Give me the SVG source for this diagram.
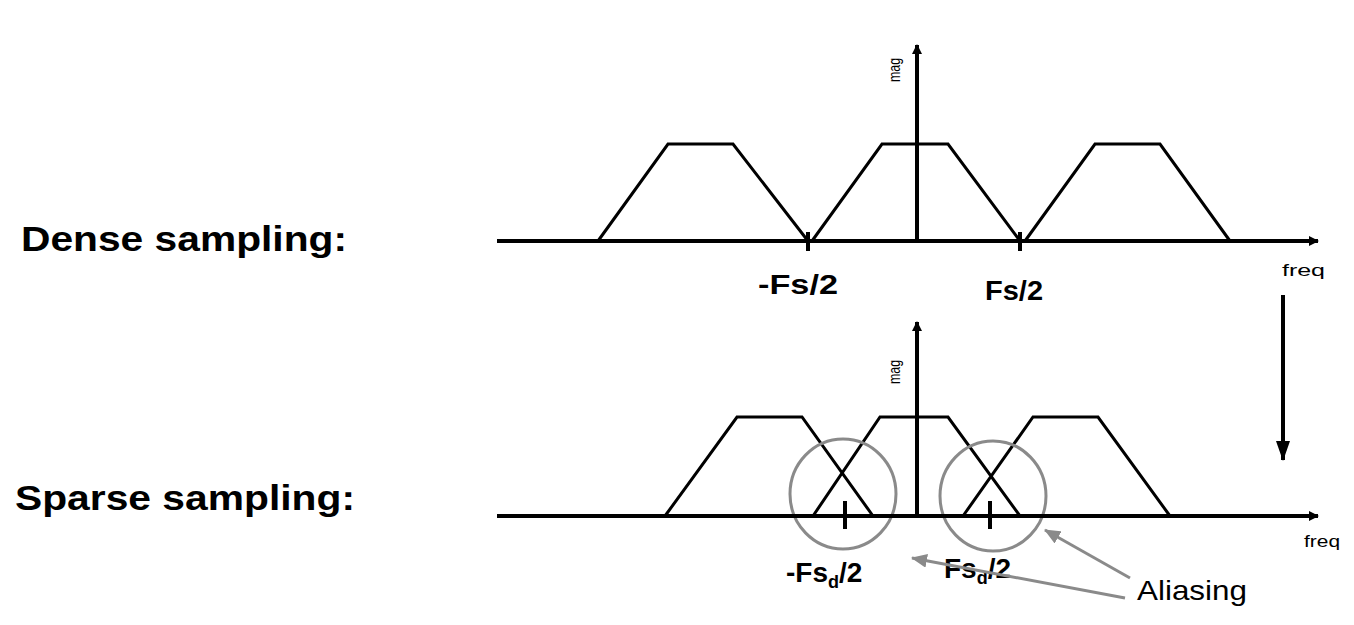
<svg xmlns="http://www.w3.org/2000/svg" width="1354" height="625" viewBox="0 0 1354 625">
<style>
.ax{stroke:#000;stroke-width:4;fill:none}
.tr{stroke:#000;stroke-width:3;fill:none}
.t{font-family:"Liberation Sans",Arial,sans-serif;fill:#000}
.big{font-size:35px;font-weight:bold}
.lab{font-size:28px;font-weight:bold}
.sm{font-size:17px}
.g{stroke:#8a8a8a;stroke-width:3;fill:none}
</style>
<defs>
<marker id="ab" markerWidth="10" markerHeight="10" refX="9" refY="5" orient="auto" markerUnits="userSpaceOnUse" viewBox="0 0 10 10"><path d="M0,0 L10,5 L0,10z" fill="#000"/></marker>
<marker id="ag" markerWidth="16" markerHeight="14" refX="15" refY="7" orient="auto" markerUnits="userSpaceOnUse"><path d="M0,0 L16,7 L0,14z" fill="#8a8a8a"/></marker>
<marker id="ak" markerWidth="20" markerHeight="14" refX="19" refY="7" orient="auto" markerUnits="userSpaceOnUse"><path d="M0,0 L20,7 L0,14z" fill="#000"/></marker>
</defs>
<g id="labels">
<text class="t big" x="21" y="251" textLength="326" lengthAdjust="spacingAndGlyphs">Dense sampling:</text>
<text class="t big" x="15" y="510" textLength="340" lengthAdjust="spacingAndGlyphs">Sparse sampling:</text>
</g>
<g id="dense">
<path class="tr" d="M598,241 L668,144 L733,144 L808,241 M812,241 L882,144 L948,144 L1020,241 M1025,241 L1095,144 L1160,144 L1230,241"/>
<path class="ax" d="M808,232 V251 M1020,232 V251"/>
<text class="t lab" x="758" y="294" textLength="80" lengthAdjust="spacingAndGlyphs">-Fs/2</text>
<text class="t lab" x="985" y="300" textLength="58" lengthAdjust="spacingAndGlyphs">Fs/2</text>
<text class="t sm" transform="translate(900,82) rotate(-90)" textLength="24" lengthAdjust="spacingAndGlyphs">mag</text>
<text class="t sm" x="1282" y="276" textLength="43" lengthAdjust="spacingAndGlyphs">freq</text>
</g>
<g id="sparse">
<path class="tr" d="M665,516 L737,417 L802,417 L873,516 M813,516 L880,417 L948,417 L1020,516 M963,516 L1033,417 L1098,417 L1170,516"/>
<path class="ax" d="M845,501 V529 M990,501 V529"/>
<ellipse class="g" cx="843" cy="494" rx="53" ry="55" stroke-width="2.5"/>
<ellipse class="g" cx="993" cy="496" rx="53" ry="55" stroke-width="2.5"/>
<text class="t lab" x="786" y="582">-Fs<tspan font-size="18" dy="6">d</tspan><tspan dy="-6">/2</tspan></text>
<text class="t lab" x="944" y="578">Fs<tspan font-size="18" dy="6">d</tspan><tspan dy="-6">/2</tspan></text>
<text class="t sm" transform="translate(900,384) rotate(-90)" textLength="24" lengthAdjust="spacingAndGlyphs">mag</text>
<text class="t sm" x="1304" y="547" textLength="36" lengthAdjust="spacingAndGlyphs">freq</text>
<text class="t" x="1137" y="600" font-size="28" textLength="110" lengthAdjust="spacingAndGlyphs">Aliasing</text>
</g>
<g id="connectors">
<path class="ax" d="M497,241 H1318" marker-end="url(#ab)"/>
<path class="ax" d="M917,241 V45" marker-end="url(#ab)"/>
<path class="ax" d="M497,516 H1318" marker-end="url(#ab)"/>
<path class="ax" d="M917,516 V322" marker-end="url(#ab)"/>
<path class="ax" d="M1283,295 V460" marker-end="url(#ak)"/>
<path class="g" d="M1130,578 L1045,530" marker-end="url(#ag)"/>
<path class="g" d="M1125,598 L912,558" marker-end="url(#ag)"/>
</g>
</svg>
